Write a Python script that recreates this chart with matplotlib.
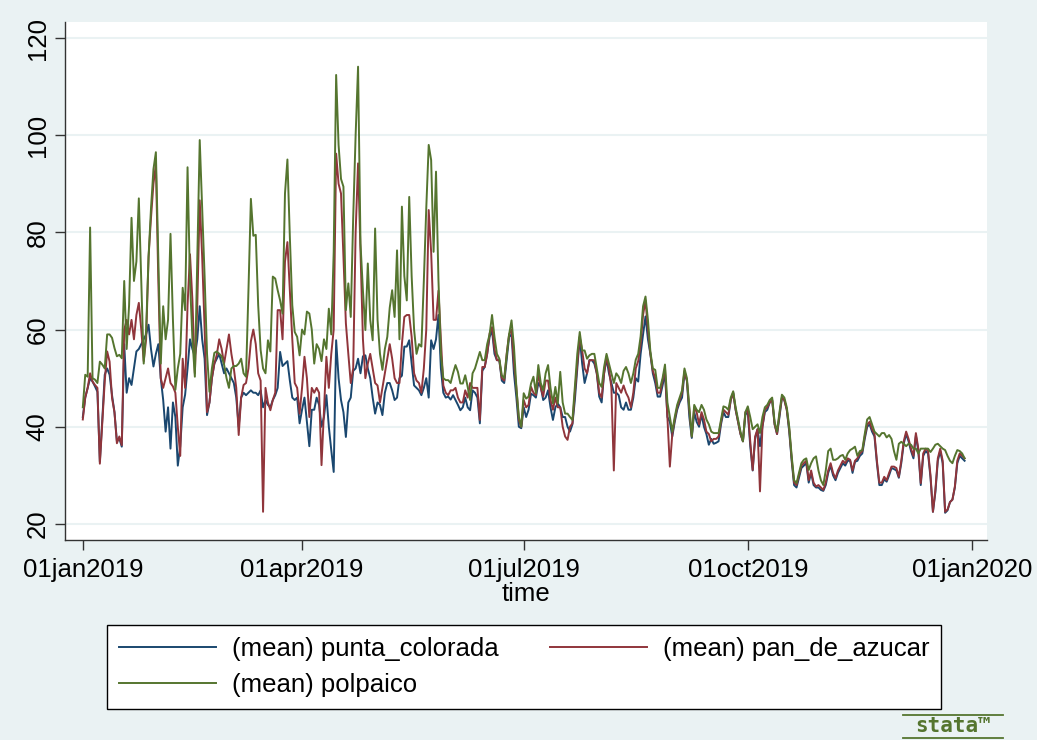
import numpy as np
import pandas as pd
import matplotlib
matplotlib.use("Agg")
import matplotlib.pyplot as plt
import matplotlib.dates as mdates
from matplotlib.lines import Line2D

# daily means, 01jan2019 onwards
punta_colorada = [
    42, 46, 48, 50, 49.3, 48.3, 47.2, 32.8, 41.5, 50.7, 52, 50.7, 46.5, 43, 37, 37.6, 35.9, 57, 47, 50,
    48.6, 52, 55.5, 56, 57, 58, 59, 61, 56, 52.4, 55, 57,
    50, 45.5, 39, 44, 35.5, 45, 42, 32, 36, 44, 46.6, 52, 58, 56, 54.5, 58, 64.8, 58, 54, 42.4,
    45, 50, 53, 54, 55, 53, 51, 52, 51, 50, 49, 46, 40, 46, 47, 46.5, 47, 47.5, 47,
    47, 46.5, 47.5, 44, 45.5, 44.5, 44, 45.5, 46.5, 48, 55.4, 52.5, 53, 53.5, 49.5, 46, 45.5, 46, 40.7, 43.5,
    46, 41, 36, 43.5, 43.5, 46, 44.5, 40, 42, 46.5, 40, 35.2, 30.7, 57.8, 50, 45.5, 43, 37.9, 45, 46,
    51.5, 52, 54, 51, 54.5, 54.7, 52, 50, 46, 42.7, 45, 44.5, 42.4, 47, 49, 49, 47.5, 45.5, 46, 50,
    50.5, 56.5, 56.5, 57.8, 53, 48.5, 48, 47.5, 46.5, 48, 50, 46,
    57.8, 56, 58, 63, 52, 47, 46, 46.2, 45.6, 46.5, 45.5, 44.5, 43.4, 44, 46, 44, 43.4, 47.5, 47, 46,
    40.7, 51.5, 52.3, 55, 58.5, 59.8, 55, 53.7, 53.7, 49.5, 49, 53.7, 58.5, 59, 51, 46, 40, 39.7, 44, 42,
    43.5, 46.8, 46.5, 46, 49, 48.2, 45.5, 46, 47.5, 44, 41.4, 44, 44.8, 44, 42, 42, 40, 39, 40.5, 45.5,
    52, 58.5, 53, 49, 51, 53.7, 53.7, 53, 51, 46.2, 45, 51,
    54, 51, 49, 47, 47, 46.5, 44, 43.5, 45, 43.5, 43.5, 46, 50, 49.3, 55, 59, 62.7, 58, 55, 51,
    49, 46.2, 46.2, 48.5, 51, 42, 41, 38, 41, 43.5, 45, 46, 51, 49.5, 42, 37.7, 43, 41, 40, 42.5,
    40, 38.5, 36.3, 37.5, 36.5, 36.7, 37, 40.5, 43, 42, 42, 45.5, 47, 43.5, 41, 38.5, 37, 42.5, 43, 36,
    31, 37.5, 39.5, 36, 40, 43, 43.5, 45, 45.5, 40.5, 38.5, 42, 46, 45.5, 43.5, 39,
    33, 28, 27.5, 29.5, 31.5, 32, 32.5, 28.5, 30.5, 28, 27.5, 27.5, 27, 26.8, 28, 30.5, 32, 30, 29, 30.5,
    31.5, 32.5, 32, 33, 33, 30.5, 32.8, 33, 34, 34.5, 37.5, 40, 40.5, 39, 38, 32.5, 28, 28, 29.2, 28.7,
    30, 31.5, 31.3, 31, 29.5, 32.5, 36.5, 38.5, 37, 35, 33.5, 38.2, 35, 28, 34, 35, 34.5, 29.5, 22.5, 26.5,
    33, 35, 32.5, 22.3, 22.8, 24.5, 25, 27.5, 32.5, 34, 33.5, 33,
]
pan_de_azucar = [
    41.5, 46, 48, 51, 49.3, 48.6, 48, 32.4, 41, 49.3, 55.5, 53.4, 45.9, 43, 36.6, 38, 36.2, 60, 62, 59,
    62, 58, 63, 65.5, 60, 53.5, 58, 75, 83, 90, 94, 70,
    50, 48, 50, 52, 49, 48.3, 47, 40, 34, 54, 48, 65, 75.5, 66, 51, 65, 86.6, 75, 60.3, 43,
    45, 50, 53, 54.8, 58, 56, 53, 56, 59, 55, 52, 48, 38.3, 46, 48.6, 49, 52, 57.6, 60,
    57, 51, 49.5, 22.5, 48, 45, 43.4, 45.5, 47, 64, 64, 58, 74, 78, 68, 58, 49, 48, 42.7, 48,
    54.4, 50, 42, 48, 47, 48, 47, 32.1, 43.4, 54.4, 48, 55, 60, 96.2, 90, 88, 75, 61.3, 55, 49,
    52, 80, 94.2, 76, 58, 50, 53, 55, 52, 49, 48.5, 45, 48, 51, 54, 57, 54, 50, 49, 49,
    57, 62.6, 63, 63, 58.5, 51, 49.5, 49, 47, 52, 60, 84.6,
    76, 62, 62, 68, 58, 48.5, 47, 46.5, 47.5, 47.5, 48, 46, 45, 45, 47.5, 46, 49, 48, 48, 48,
    41.4, 52.3, 52.3, 55, 59.2, 60.5, 56, 53.7, 53.7, 50, 49.5, 55, 59, 60, 53, 48, 41.4, 40, 45.5, 44,
    44.5, 48.2, 47, 46.5, 51, 48, 46.2, 49.5, 49.5, 45.5, 43.5, 46, 44, 44, 40, 38, 37.3, 40, 40.7, 47,
    53, 58.5, 55.7, 52, 51, 53.7, 53.7, 53.7, 51, 47, 46, 51,
    54.5, 52, 48, 31, 49, 48, 47, 48.5, 47, 46, 44, 47, 52, 53.5, 57, 63, 66, 60, 55, 51.5,
    50, 47, 47, 49.5, 52, 42, 31.8, 38.5, 41.5, 44, 45.5, 47, 51.5, 49.5, 43.5, 38, 44, 43, 40.5, 43,
    41.5, 39, 38.5, 37, 37.5, 37.5, 38, 41, 43.5, 43, 42.5, 45.5, 47, 43.5, 41, 38.5, 37, 43, 43.5, 37,
    31.1, 38, 39.5, 26.7, 40, 43.5, 44, 45, 45.5, 40.5, 38.5, 42.5, 46, 45.5, 43.5, 39.5,
    33.5, 28.5, 28, 30, 32, 32.5, 33, 29, 31, 28.5, 27.7, 28, 27.5, 27, 28.5, 31, 32.5, 30.5, 29.4, 31,
    32, 33, 32.5, 33.5, 33.2, 31, 33, 33.5, 34.5, 35, 38, 40.5, 41, 39.5, 38.5, 33, 28.5, 28.5, 29.7, 29,
    30.5, 31.8, 31.8, 31.5, 29.7, 33, 37, 39, 37.5, 35.5, 34, 38.7, 35.5, 28.4, 34.5, 35.5, 35, 30, 22.5, 27,
    33.5, 35.5, 33, 22.5, 23, 24.5, 25, 27.7, 33, 34.5, 34, 33.5,
]
polpaico = [
    44, 50.7, 50.3, 81, 50, 49.7, 49, 53.4, 52.8, 52, 59, 59, 58.3, 56.2, 54.5, 54.8, 54.1, 70, 56, 65,
    83, 70, 74, 87, 70, 53, 60, 75, 85, 93, 96.5, 75,
    53, 64.8, 58, 62, 79.7, 62, 47.6, 52, 55, 68.6, 64, 93.4, 70, 58, 50.3, 75, 99, 85, 71, 55,
    47.2, 52, 55.2, 55.5, 55, 54.5, 52.8, 50, 48, 52, 52.5, 52.5, 53, 54, 51, 50.3, 68, 86.9, 79.3,
    79.5, 65, 55.8, 52, 51, 57.8, 55.5, 70.9, 70.5, 68.1, 66, 63.3, 88, 95, 79, 65, 59.5, 58.5, 54.7, 60,
    59, 63.7, 63.3, 60, 53, 57, 56, 53.5, 58, 56, 64.3, 59, 76, 112.4, 98, 91, 89.4, 64, 69.5, 62.6,
    83, 100, 114.1, 77.7, 68, 59.9, 73.6, 62, 57.8, 80.8, 62, 55, 51.7, 56, 58.5, 64.5, 68.1, 62.6, 76.3, 58,
    85.3, 71, 66, 87.3, 71, 60, 55, 57, 56.5, 70, 85, 98,
    94.9, 76, 92.5, 70.2, 55, 50, 49.6, 49.6, 49, 51, 52.7, 51.3, 48.9, 48.9, 50.6, 48.2, 45.5, 51, 52, 53.7,
    55.4, 53.7, 53.7, 57, 59, 63, 58.5, 55, 54, 50.6, 50, 54.7, 59, 61.9, 56.5, 48, 42.1, 40, 46.9, 45.8,
    46.2, 48.9, 50.3, 46.9, 52.7, 49, 47.5, 51, 52.7, 48, 44.8, 48.2, 44.8, 51.3, 45, 42.7, 42.7, 42, 41.4, 48.2,
    55, 59.5, 55.7, 55.7, 54, 54.7, 55, 55, 52, 49, 48.2, 52.3,
    55, 53, 51, 49, 51, 50.3, 49, 51.5, 52.3, 51, 49, 51, 53.8, 55, 58.6, 64.8, 66.8, 62, 55.5, 52,
    51.7, 48, 48, 50, 52.8, 45, 42, 39, 42, 44.5, 46, 47.5, 52, 50, 44, 38, 44.5, 43.5, 43, 44.5,
    43.5, 41.5, 40.5, 39, 38.7, 38.7, 38.7, 41.5, 44.2, 44, 43.5, 46, 47.3, 44, 41.5, 39, 37, 43, 44.2, 42,
    39.5, 40, 40.5, 38.7, 42, 44, 44.5, 45.5, 46, 41, 39, 43, 46.6, 46, 44, 40,
    34, 29, 28.4, 30.5, 32.5, 33.2, 33.5, 31.1, 32.5, 33.5, 33.9, 31, 29, 28, 31, 35, 35.5, 33.2, 33.2, 33.5,
    34, 34.2, 33.2, 34.5, 35.2, 35.5, 35.9, 34, 35, 35.2, 38.5, 41.5, 42, 40.5, 39, 38.5, 38, 38.7, 38.7, 37.8,
    38.3, 37.5, 35, 33.2, 36.5, 36.9, 36.5, 36, 36.5, 36.3, 35.5, 35.5, 34.5, 35.5, 35.5, 35.5, 35.5, 34.8, 35.5, 36.3,
    36.5, 36, 35.5, 35.2, 34, 33, 32.5, 34, 35.2, 35, 34.5, 33.5,
]

series = [
    ("(mean) punta_colorada", punta_colorada, "#1a476f"),
    ("(mean) pan_de_azucar", pan_de_azucar, "#90353b"),
    ("(mean) polpaico", polpaico, "#55752f"),
]
tick_dates = ["2019-01-01", "2019-04-01", "2019-07-01", "2019-10-01", "2020-01-01"]
tick_labels = ["01jan2019", "01apr2019", "01jul2019", "01oct2019", "01jan2020"]
y_ticks = [20, 40, 60, 80, 100, 120]

bg = "#eaf2f3"
plt.rcParams["font.family"] = ["Liberation Sans", "DejaVu Sans"]

fig = plt.figure(figsize=(10.37, 7.40), dpi=100, facecolor=bg)
ax = fig.add_axes([0.0627, 0.2703, 0.8891, 0.7])
ax.set_facecolor("white")

time = pd.date_range("2019-01-01", periods=len(polpaico), freq="D")
handles = []
for name, vals, col in series:
    h, = ax.plot(time, vals, color=col, lw=1.4, label=name)
    handles.append(h)

start = mdates.date2num(pd.Timestamp("2019-01-01"))
ax.set_xlim(start - 7.3, start + 371.2)
ax.set_ylim(16.7, 123.3)

ax.set_xticks(pd.to_datetime(tick_dates))
ax.set_xticklabels(tick_labels)
ax.set_yticks(y_ticks)
ax.set_yticklabels([str(v) for v in y_ticks], rotation=90, va="center")
ax.tick_params(axis="both", length=7, width=1, color="#333333", labelsize=18.5, colors="black")
ax.tick_params(axis="x", pad=6)
ax.tick_params(axis="y", pad=4)
ax.yaxis.grid(True, color=bg, lw=1.5)
ax.set_axisbelow(True)
for s in ["top", "right"]:
    ax.spines[s].set_visible(False)
for s in ["left", "bottom"]:
    ax.spines[s].set_color("#333333")
    ax.spines[s].set_linewidth(1)
ax.set_xlabel("time", fontsize=18.5, labelpad=0)

# legend fills column-wise, so reorder to get two entries on the first row
order = [0, 2, 1]
leg = fig.legend([handles[i] for i in order], [series[i][0] for i in order],
                 loc="upper left", bbox_to_anchor=(107 / 1037, 1 - 625 / 740),
                 ncol=2, fontsize=18.5, frameon=True, fancybox=False,
                 edgecolor="black", facecolor="white", framealpha=1, handlelength=3.8,
                 handletextpad=0.6, columnspacing=2.0, labelspacing=0.5,
                 borderpad=0.45, borderaxespad=0)
leg.get_frame().set_linewidth(1)

# stata logo, lower right
logo = "#55752f"
fig.text(953 / 1037, 1 - 726 / 740, "stata\u2122", color=logo, fontsize=15, fontweight="bold",
         ha="center", va="center", family="DejaVu Sans Mono")
for yy in (715, 738):
    fig.add_artist(Line2D([903 / 1037, 1003 / 1037], [1 - yy / 740] * 2, color=logo, lw=1.3))

fig.savefig("out.png", dpi=100, facecolor=bg)
